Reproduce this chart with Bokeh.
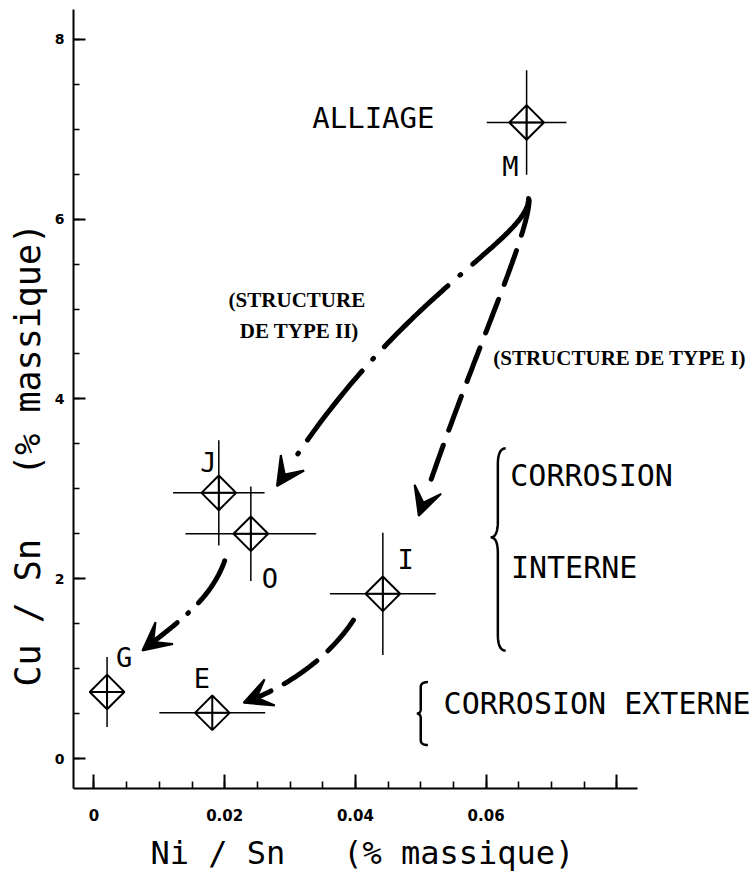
import numpy as np
from bokeh.plotting import figure
from bokeh.models import FixedTicker, Label, Arrow, VeeHead, Title
from bokeh.embed import file_html
from bokeh.resources import INLINE

# ---------------- data ----------------
samples = ["M", "J", "O", "I", "G", "E"]
ni_sn = [0.0662, 0.0191, 0.0240, 0.0442, 0.0020, 0.0181]      # Ni/Sn (% massique)
cu_sn = [7.075, 2.955, 2.500, 1.832, 0.740, 0.508]            # Cu/Sn (% massique)
ni_err = [0.0061, 0.0070, 0.0100, 0.0081, 0.0, 0.0081]
cu_err = [0.58, 0.585, 0.525, 0.68, 0.39, 0.0]

x_ticks = [0, 0.02, 0.04, 0.06, 0.08]
x_tick_labels = ["0", "0.02", "0.04", "0.06", ""]
y_ticks = [0, 2, 4, 6, 8]
y_tick_labels = ["0", "2", "4", "6", "8"]

NB = "\u00a0"
x_title = "Ni / Sn" + NB * 3 + "(% massique)"
y_title = "Cu / Sn" + NB * 3 + "(% massique)"

# ---------------- annotation layout (data coordinates) ----------------
label_pos = {  # sample letter positions (centre)
    "M": (0.0637, 6.58), "J": (0.0175, 3.29), "O": (0.0269, 2.00),
    "I": (0.0477, 2.21), "G": (0.0046, 1.12), "E": (0.0165, 0.89),
}
# curved arrows: (P0, C1, C2, P3, dash pattern)
arrows = [
    ((0.0665, 6.23), (0.0665, 5.76), (0.0460, 5.15), (0.0280, 3.03), "88 16 1 16"),
    ((0.0666, 6.21), (0.0663, 5.76), (0.0576, 4.43), (0.0497, 2.70), "36 16"),
    ((0.0200, 2.20), (0.0178, 1.76), (0.0132, 1.54), (0.0074, 1.20), "50 14 1 14"),
    ((0.0397, 1.54), (0.0362, 1.15), (0.0301, 0.81), (0.0229, 0.62), "40 15"),
]
# braces: (x_tip, x_arm, x_end, y_top, y_mid, y_bottom)
braces = [
    (0.0607, 0.0618, 0.0630, 3.45, 2.46, 1.20),
    (0.0494, 0.0500, 0.0511, 0.85, 0.50, 0.15),
]
texts = [  # (x, y, text, font, size, style)
    (0.0334, 7.13, "ALLIAGE", "DejaVu Sans Mono", "29px", "normal"),
    (0.0637, 3.15, "CORROSION", "DejaVu Sans Mono", "30px", "normal"),
    (0.0638, 2.12, "INTERNE", "DejaVu Sans Mono", "30px", "normal"),
    (0.0535, 0.61, "CORROSION EXTERNE", "DejaVu Sans Mono", "30px", "normal"),
    (0.0206, 5.10, "(STRUCTURE", "Liberation Serif", "21px", "bold"),
    (0.0223, 4.76, "DE TYPE II)", "Liberation Serif", "21px", "bold"),
    (0.0611, 4.46, "(STRUCTURE DE TYPE I)", "Liberation Serif", "21px", "bold"),
]

X0, X1 = -0.003137, 0.10138
Y0, Y1 = -0.3337, 8.343

p = figure(width=756, height=880, output_backend="svg", toolbar_location=None,
           x_range=(X0, X1), y_range=(Y0, Y1),
           min_border_left=73, min_border_right=0, min_border_top=8, min_border_bottom=92)
p.outline_line_color = None
p.grid.visible = False
p.background_fill_color = "white"

# x axis
xa = p.xaxis[0]
xa.ticker = FixedTicker(ticks=x_ticks, minor_ticks=[i * 0.005 for i in range(17)])
xa.major_label_overrides = dict(zip(x_ticks, x_tick_labels))
xa.bounds = (X0, 0.0832)
xa.axis_line_width = 2
xa.major_tick_in, xa.major_tick_out = 14, 0
xa.minor_tick_in, xa.minor_tick_out = 7, 0
xa.major_tick_line_width = 2
xa.minor_tick_line_width = 1.6
xa.major_label_standoff = 20
xa.major_label_text_font = "DejaVu Sans"
xa.major_label_text_font_style = "bold"
xa.major_label_text_font_size = "15px"
xa.major_label_text_color = "black"

# y axis
ya = p.yaxis[0]
ya.ticker = FixedTicker(ticks=y_ticks, minor_ticks=[i * 0.5 for i in range(17)])
ya.major_label_overrides = dict(zip(y_ticks, y_tick_labels))
ya.bounds = (Y0, 8.33)
ya.axis_line_width = 2
ya.major_tick_in, ya.major_tick_out = 12, 0
ya.minor_tick_in, ya.minor_tick_out = 6, 0
ya.major_tick_line_width = 2
ya.minor_tick_line_width = 1.6
ya.major_label_standoff = 9
ya.major_label_text_font = "DejaVu Sans"
ya.major_label_text_font_style = "bold"
ya.major_label_text_font_size = "14px"
ya.major_label_text_color = "black"

# axis titles
p.add_layout(Title(text=x_title, align="left", offset=77, text_font="DejaVu Sans Mono",
                   text_font_size="32px", text_font_style="normal", text_color="black",
                   standoff=17), "below")
p.add_layout(Title(text=y_title, align="left", offset=102, text_font="DejaVu Sans Mono",
                   text_font_size="35px", text_font_style="normal", text_color="black",
                   standoff=8), "left")

# error bars
p.segment(x0=[x - e for x, e in zip(ni_sn, ni_err)], x1=[x + e for x, e in zip(ni_sn, ni_err)],
          y0=cu_sn, y1=cu_sn, line_color="black", line_width=1.5)
p.segment(x0=ni_sn, x1=ni_sn, y0=[y - e for y, e in zip(cu_sn, cu_err)],
          y1=[y + e for y, e in zip(cu_sn, cu_err)], line_color="black", line_width=1.5)
# diamond markers with inner cross
p.scatter(ni_sn, cu_sn, marker="square_x", size=24.5, angle=np.pi / 4,
          fill_color=None, line_color="black", line_width=2)

# sample letters
for s in samples:
    lx, ly = label_pos[s]
    p.add_layout(Label(x=lx, y=ly, text=s, text_font="DejaVu Sans Mono", text_font_size="27px",
                       text_align="center", text_baseline="middle", text_color="black"))


def cubic(P0, C1, C2, P3, n=100):
    t = np.linspace(0, 1, n)[:, None]
    pts = ((1 - t) ** 3) * np.array(P0) + 3 * ((1 - t) ** 2) * t * np.array(C1) \
        + 3 * (1 - t) * t ** 2 * np.array(C2) + t ** 3 * np.array(P3)
    return pts[:, 0], pts[:, 1]


for P0, C1, C2, P3, dash in arrows:
    xs, ys = cubic(P0, C1, C2, P3)
    k = int(len(xs) * 0.95)
    p.line(xs[:k], ys[:k], line_color="black", line_width=5, line_dash=dash, line_cap="round")
    p.add_layout(Arrow(end=VeeHead(size=28, fill_color="black", line_color="black", line_width=2),
                       x_start=xs[-10], y_start=ys[-10], x_end=xs[-1], y_end=ys[-1],
                       line_alpha=0))


def quad(P0, C, P1, n=20):
    t = np.linspace(0, 1, n)[:, None]
    pts = ((1 - t) ** 2) * np.array(P0) + 2 * (1 - t) * t * np.array(C) + t ** 2 * np.array(P1)
    return list(pts[:, 0]), list(pts[:, 1])


for xt, xa_, xe, yt, ym, yb in braces:
    r = (yt - yb) * 0.08
    bx, by = [], []
    for seg in [quad((xe, yt), (xa_, yt), (xa_, yt - r)),
                quad((xa_, ym + r), (xa_, ym), (xt, ym)),
                quad((xt, ym), (xa_, ym), (xa_, ym - r)),
                quad((xa_, yb + r), (xa_, yb), (xe, yb))]:
        bx += seg[0]
        by += seg[1]
    p.line(bx, by, line_color="black", line_width=2.5)

for tx, ty, t, f, fs, st in texts:
    p.add_layout(Label(x=tx, y=ty, text=t, text_font=f, text_font_size=fs, text_font_style=st,
                       text_baseline="middle", text_align="left", text_color="black"))

open("out.html", "w").write(file_html(p, INLINE))
